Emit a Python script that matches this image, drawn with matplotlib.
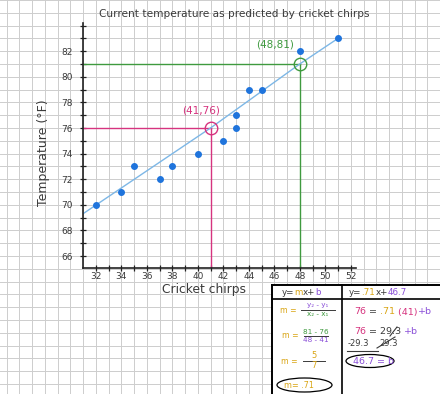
import matplotlib
matplotlib.use("Agg")
import matplotlib.pyplot as plt
from matplotlib.patches import Ellipse, Rectangle

# ---------------------------------------------------------------------------
# Data
# ---------------------------------------------------------------------------
chirps = [32, 34, 35, 37, 38, 40, 42, 43, 43, 44, 45, 48, 51]
temps = [70, 71, 73, 72, 73, 74, 75, 76, 77, 79, 79, 82, 83]

# hand-drawn line of best fit (through the two picked points)
fit_x = [31, 41, 48, 51]
fit_y = [69.3, 76, 81, 83]

pick_pink = (41, 76)
pick_green = (48, 81)

x_ticks = list(range(32, 53, 2))
y_ticks = list(range(66, 83, 2))

INK = "#3a3a3a"
PINK = "#d6337f"
GREEN = "#3f9a3f"
BLUE = "#1f74dc"
LIGHT_BLUE = "#7db7e6"
GOLD = "#d9a514"
PURPLE = "#8a4fd8"
GRID = "#cdcdcd"

W, H = 440, 394
fig = plt.figure(figsize=(W / 100, H / 100), dpi=100)

# ---------------------------------------------------------------------------
# Graph paper (same data scale as the chart, 1 square = 1 unit)
# ---------------------------------------------------------------------------
px_x, px_y = 12.75, 12.8
x0_data = 31 - 83 / px_x
y_top = 76 + 128 / px_y
bg = fig.add_axes([0, 0, 1, 1], zorder=0)
bg.set_xlim(x0_data, x0_data + W / px_x)
bg.set_ylim(y_top - H / px_y, y_top)
bg.axis("off")
for gx in range(int(x0_data), int(x0_data + W / px_x) + 2):
    bg.axvline(gx, color=GRID, lw=0.7)
for gy in range(int(y_top - H / px_y), int(y_top) + 2):
    bg.axhline(gy, color=GRID, lw=0.7)

# ---------------------------------------------------------------------------
# Chart
# ---------------------------------------------------------------------------
xlim = (31, 52.4)
ylim = (65.1, 84.2)
left = 83
right = left + (xlim[1] - xlim[0]) * px_x
bottom = 128 + (76 - ylim[0]) * px_y
top = 128 - (ylim[1] - 76) * px_y
ax = fig.add_axes([left / W, (H - bottom) / H, (right - left) / W, (bottom - top) / H],
                  zorder=1)
ax.patch.set_alpha(0)
ax.set_xlim(*xlim)
ax.set_ylim(*ylim)
for s in ("top", "right"):
    ax.spines[s].set_visible(False)
for s in ("left", "bottom"):
    ax.spines[s].set_color("#222222")
    ax.spines[s].set_linewidth(1.2)

ax.set_xticks(x_ticks)
ax.set_yticks(y_ticks)
ax.set_xticks(range(32, 53), minor=True)
ax.set_yticks(range(66, 85), minor=True)
ax.tick_params(which="both", direction="inout", color="#222222", width=0.9)
ax.tick_params(which="major", length=5, labelsize=6.5, labelcolor=INK)
ax.tick_params(which="minor", length=5)
ax.tick_params(axis="y", pad=5)
ax.tick_params(axis="x", pad=1)

# guide lines to the picked points
ax.plot([xlim[0], pick_pink[0]], [pick_pink[1]] * 2, color=PINK, lw=1)
ax.plot([pick_pink[0]] * 2, [ylim[0], pick_pink[1]], color=PINK, lw=1)
ax.plot([xlim[0], pick_green[0]], [pick_green[1]] * 2, color=GREEN, lw=1)
ax.plot([pick_green[0]] * 2, [ylim[0], pick_green[1]], color=GREEN, lw=1)

ax.plot(fit_x, fit_y, color=LIGHT_BLUE, lw=1)
ax.plot(chirps, temps, "o", color=BLUE, ms=4, mec=BLUE)

ax.plot(*pick_pink, "o", mfc="none", mec=PINK, ms=9, mew=1)
ax.plot(*pick_green, "o", mfc="none", mec=GREEN, ms=9, mew=1)
ax.text(40.25, 77.4, "(41,76)", color=PINK, fontsize=7.5, ha="center", va="center")
ax.text(46.06, 82.5, "(48,81)", color=GREEN, fontsize=7.5, ha="center", va="center")

# ---------------------------------------------------------------------------
# Overlay in pixel coordinates: titles and the worked-out table
# ---------------------------------------------------------------------------
ov = fig.add_axes([0, 0, 1, 1], zorder=2)
ov.set_xlim(0, W)
ov.set_ylim(H, 0)
ov.axis("off")

ov.text(234, 14, "Current temperature as predicted by cricket chirps",
        color=INK, fontsize=7.6, ha="center", va="center")
ov.text(43, 153, "Temperature (°F)", color=INK, fontsize=9, rotation=90,
        ha="center", va="center")
ov.text(204, 290, "Cricket chirps", color=INK, fontsize=8.8, ha="center", va="center")

renderer = fig.canvas.get_renderer()


def colored(x, y, parts, size=6.3):
    for s, c in parts:
        t = ov.text(x, y, s, color=c, fontsize=size, ha="left", va="center")
        x += t.get_window_extent(renderer).width
    return x


def fraction(xc, y, num, den, num_c, den_c, half=17, size=5.2):
    ov.text(xc, y - 4.5, num, color=num_c, fontsize=size, ha="center", va="center")
    ov.plot([xc - half, xc + half], [y, y], color=INK, lw=0.7)
    ov.text(xc, y + 4.5, den, color=den_c, fontsize=size, ha="center", va="center")


# table box (right and bottom edges run off the page)
ov.add_patch(Rectangle((272, 285), W - 272, H - 285, facecolor="white",
                       edgecolor="none", zorder=0))
ov.plot([272, W], [285, 285], color="black", lw=1.4)
ov.plot([272, 272], [285, H], color="black", lw=1.4)
ov.plot([272, W], [299, 299], color="black", lw=1.2)
ov.plot([342, 342], [285, H], color="black", lw=1.2)

# header
colored(282, 292.5, [("y=", INK), ("m", GOLD), ("x+", INK), ("b", PURPLE)])
colored(349, 292.5, [("y=", INK), (".71", GOLD), ("x+", INK), ("46.7", PURPLE)])

# left column: slope
colored(280, 310.5, [("m =", GOLD)], size=5.6)
fraction(318, 310, "y₂ - y₁", "x₂ - x₁", PURPLE, GREEN)
colored(282, 335, [("m =", GOLD)], size=5.6)
fraction(316, 336, "81 - 76", "48 - 41", GREEN, PURPLE, half=12)
colored(281, 361, [("m =", GOLD)], size=5.6)
fraction(314, 360.5, "5", "7", GOLD, GOLD, half=11, size=6)
colored(284, 385, [("m= .71", GOLD)], size=5.8)
ov.add_patch(Ellipse((304.5, 385), 55, 14, facecolor="none", edgecolor="black", lw=0.9))

# right column: intercept
colored(354, 312, [("76", PINK), (" = ", INK), (".71", GOLD), (" (41)", PINK),
                   ("+b", PURPLE)], size=6.8)
colored(354, 332, [("76", PINK), (" = 29.3 ", INK), ("+b", PURPLE)], size=6.8)
ov.plot([390, 397], [336, 327], color=INK, lw=0.8)
colored(348, 343, [("-29.3", INK)], size=6)
colored(379, 343, [("29.3", INK)], size=6)
ov.plot([377, 395], [348, 337], color=INK, lw=0.8)
ov.plot([347, 378], [351, 351], color=INK, lw=0.8)
colored(353, 361, [("46.7 = b", PURPLE)], size=6.8)
ov.add_patch(Ellipse((370, 361), 48, 13, facecolor="none", edgecolor="black", lw=0.9))

fig.savefig("out.png", dpi=100)
